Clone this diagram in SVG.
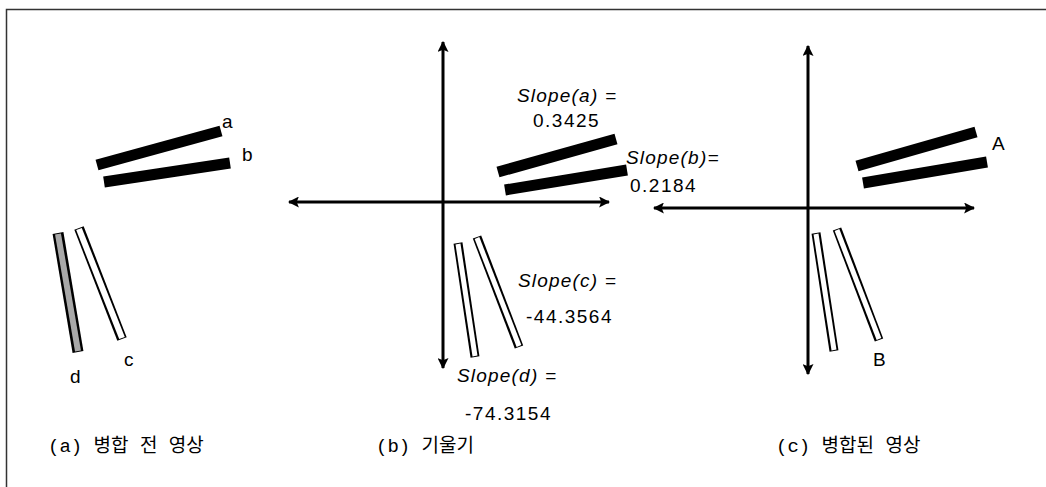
<svg xmlns="http://www.w3.org/2000/svg" width="1046" height="487" viewBox="0 0 1046 487">
<defs>
<marker id="ah" viewBox="0 0 10 10" refX="9" refY="5" markerWidth="11" markerHeight="11" markerUnits="userSpaceOnUse" orient="auto-start-reverse">
<path d="M0,0 L10,5 L0,10 L2,5 z" fill="#000"/>
</marker>
</defs>
<style>
.frame{stroke:#333;stroke-width:1.5;fill:none}
.axis{stroke:#000;stroke-width:3;fill:none;marker-end:url(#ah);marker-start:url(#ah)}
.bar{stroke:#000;stroke-width:11;stroke-linecap:butt}
.obar{stroke:#000;stroke-width:10;stroke-linecap:butt}
.ibar{stroke:#fff;stroke-width:5;stroke-linecap:butt}
.gbar{stroke:#a8a8a8;stroke-width:5;stroke-linecap:butt}
.lbl{font-family:"Liberation Sans",Arial,sans-serif;font-size:19px;fill:#000}
.sl{font-family:"Liberation Sans",Arial,sans-serif;font-size:19px;font-style:italic;fill:#000;letter-spacing:1.2px}
.num{font-family:"Liberation Sans",Arial,sans-serif;font-size:19px;fill:#000;letter-spacing:1.5px}
.cap{font-family:"Liberation Mono","Noto Sans CJK KR",monospace;font-size:19px;fill:#000}
</style>
<path class="frame" d="M6.5,487 L6.5,9.5 L1046,9.5"/>
<g id="connectors">
<line class="axis" x1="443" y1="42" x2="443" y2="368"/>
<line class="axis" x1="289" y1="202" x2="609" y2="202"/>
<line class="axis" x1="808" y1="46" x2="808" y2="374"/>
<line class="axis" x1="654" y1="208" x2="974" y2="208"/>
</g>
<g id="panel-a">
<line class="bar" x1="97" y1="165" x2="221" y2="131"/>
<line class="bar" x1="104" y1="182" x2="230" y2="163"/>
<line class="obar" x1="58" y1="233" x2="78" y2="352" style="stroke-width:11"/>
<line class="gbar" x1="58" y1="234" x2="78" y2="351" style="stroke-width:6"/>
<line class="obar" x1="79" y1="228" x2="122" y2="339"/>
<line class="ibar" x1="79" y1="229" x2="122" y2="338" style="stroke-width:6"/>
<text class="lbl" x="222" y="128">a</text>
<text class="lbl" x="242" y="161">b</text>
<text class="lbl" x="124" y="366">c</text>
<text class="lbl" x="70" y="383">d</text>
</g>
<g id="panel-b">
<line class="bar" x1="498" y1="172" x2="616" y2="139"/>
<line class="bar" x1="505" y1="190" x2="627" y2="170"/>
<line class="obar" x1="458" y1="243" x2="475" y2="357" style="stroke-width:9"/>
<line class="ibar" x1="458" y1="244" x2="475" y2="356"/>
<line class="obar" x1="477" y1="237" x2="519" y2="347" style="stroke-width:9"/>
<line class="ibar" x1="477" y1="238" x2="519" y2="346"/>
<text class="sl" x="517" y="102">Slope(a) =</text>
<text class="num" x="533" y="127">0.3425</text>
<text class="sl" x="626" y="164">Slope(b)=</text>
<text class="num" x="630" y="192">0.2184</text>
<text class="sl" x="518" y="287">Slope(c) =</text>
<text class="num" x="526" y="323">-44.3564</text>
<text class="sl" x="457" y="382">Slope(d) =</text>
<text class="num" x="465" y="420">-74.3154</text>
</g>
<g id="panel-c">
<line class="bar" x1="857" y1="166" x2="976" y2="132"/>
<line class="bar" x1="863" y1="183" x2="987" y2="162"/>
<line class="obar" x1="816" y1="233" x2="834" y2="351" style="stroke-width:9"/>
<line class="ibar" x1="816" y1="234" x2="834" y2="350"/>
<line class="obar" x1="837" y1="229" x2="879" y2="340" style="stroke-width:9"/>
<line class="ibar" x1="837" y1="230" x2="879" y2="339"/>
<text class="lbl" x="992" y="150">A</text>
<text class="lbl" x="873" y="366">B</text>
</g>
<g id="captions">
<text class="cap" x="48" y="452">(a) 병합 전 영상</text>
<text class="cap" x="376" y="452">(b) 기울기</text>
<text class="cap" x="776" y="452">(c) 병합된 영상</text>
</g>
</svg>
